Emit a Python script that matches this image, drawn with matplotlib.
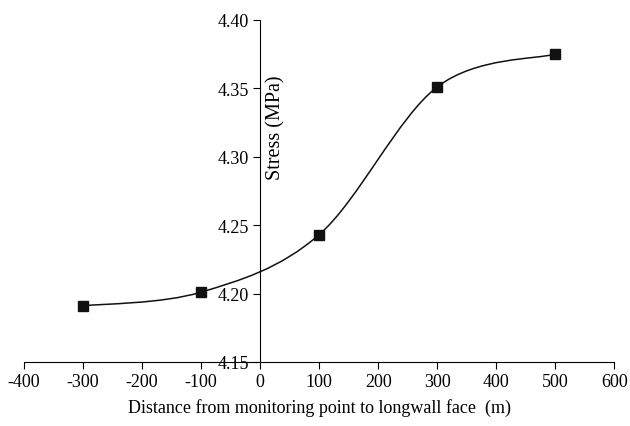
import numpy as np
import matplotlib.pyplot as plt
from matplotlib.path import Path
from matplotlib.patches import PathPatch

plt.rcParams['font.family'] = ['Liberation Serif', 'DejaVu Serif']
plt.rcParams['font.size'] = 13
plt.rcParams['axes.unicode_minus'] = False

distance = [-300, -100, 100, 300, 500]
stress = [4.191, 4.201, 4.243, 4.351, 4.375]
xticks = [-400, -300, -200, -100, 0, 100, 200, 300, 400, 500, 600]
yticks = [4.15, 4.20, 4.25, 4.30, 4.35, 4.40]


def smooth_path(x, y):
    # cubic Bezier through every point, Catmull-Rom style tangents
    pts = np.column_stack([x, y])
    n = len(pts)
    verts = [pts[0]]
    codes = [Path.MOVETO]
    for i in range(n - 1):
        p0 = pts[max(i - 1, 0)]
        p1 = pts[i]
        p2 = pts[i + 1]
        p3 = pts[min(i + 2, n - 1)]
        c1 = p1 + (p2 - p0) / 6
        c2 = p2 - (p3 - p1) / 6
        verts += [c1, c2, p2]
        codes += [Path.CURVE4] * 3
    return Path(verts, codes)


fig = plt.figure(figsize=(6.3, 4.27), dpi=100)
ax = fig.add_axes([0.038, 0.150, 0.937, 0.801])

ax.add_patch(PathPatch(smooth_path(distance, stress), fill=False,
                       edgecolor='#111111', lw=1.1))
ax.plot(distance, stress, ls='none', marker='s', ms=6.5, color='#111111')

ax.set_xlim(-400, 600)
ax.set_ylim(4.15, 4.40)
ax.set_xticks(xticks)
ax.set_yticks(yticks)
ax.set_yticklabels([f'{v:.2f}' for v in yticks])

ax.spines['left'].set_position(('data', 0))
ax.spines['right'].set_visible(False)
ax.spines['top'].set_visible(False)
ax.tick_params(direction='out', length=5, width=0.8, pad=3)

ax.text(10, 4.322, 'Stress (MPa)', rotation=90, ha='left', va='center',
        fontsize=14.5)
ax.set_xlabel('Distance from monitoring point to longwall face  (m)', labelpad=6)

fig.savefig('out.png', dpi=100)
